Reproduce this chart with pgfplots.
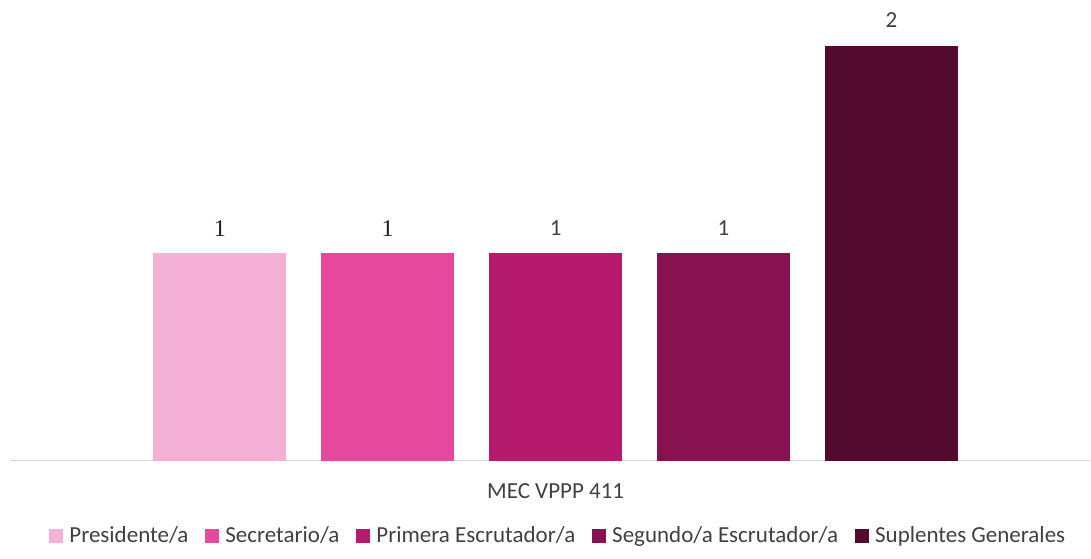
\documentclass[border=0pt]{standalone}
\usepackage{pgfplots}
\pgfplotsset{compat=1.18}
\usepackage{fontspec}
\setmainfont{Carlito}
\newfontfamily\serifnum{Liberation Serif}
\definecolor{c1}{HTML}{F5B0D5}
\definecolor{c2}{HTML}{E5489C}
\definecolor{c3}{HTML}{B51A6D}
\definecolor{c4}{HTML}{87124F}
\definecolor{c5}{HTML}{520B2E}
\definecolor{lbl}{HTML}{404040}
\definecolor{axl}{HTML}{D9D9D9}
\begin{document}
\begin{tikzpicture}
\begin{axis}[
  scale only axis,
  width=1081pt, height=461pt,
  xmin=-546, xmax=535,
  ymin=0, ymax=2.2217,
  ybar=35pt, bar width=133,
  axis x line*=bottom,
  axis y line=none,
  x axis line style={draw=axl, line width=1.5pt, -},
  xtick={0}, xticklabels={MEC VPPP 411},
  major tick length=0pt,
  xticklabel style={font=\fontsize{23}{27}\selectfont, text=lbl, anchor=base, yshift=-38pt},
  ytick=\empty,
  clip=false,
  /pgf/number format/assume math mode=true,
  nodes near coords,
  every node near coord/.append style={font=\fontsize{23}{27}\selectfont, text=lbl, anchor=south, inner sep=0pt, yshift=18pt},
  legend columns=5,
  legend style={draw=none, fill=none, at={(0.5076,-0.1627)}, anchor=center,
    font=\fontsize{23}{27}\selectfont, text=lbl,
    /tikz/every even column/.append style={column sep=15pt},
    /tikz/every odd column/.append style={column sep=4pt},
    inner sep=0pt},
  legend image code/.code={\fill[#1] (0pt,-7pt) rectangle (14pt,7pt);},
]
\addplot[fill=c1, draw=none, every node near coord/.append style={font=\serifnum\fontsize{24}{28}\selectfont, text=black!88, yshift=-1.5pt}] coordinates {(0,1)};
\addplot[fill=c2, draw=none, every node near coord/.append style={font=\serifnum\fontsize{24}{28}\selectfont, text=black!88, yshift=-1.5pt}] coordinates {(0,1)};
\addplot[fill=c3, draw=none] coordinates {(0,1)};
\addplot[fill=c4, draw=none] coordinates {(0,1)};
\addplot[fill=c5, draw=none] coordinates {(0,2)};
\legend{Presidente/a, Secretario/a, Primera Escrutador/a, Segundo/a Escrutador/a, Suplentes Generales}
\end{axis}
\path ([xshift=-10pt,yshift=-98pt]current axis.south west) rectangle (current axis.north east);
\end{tikzpicture}
\end{document}
